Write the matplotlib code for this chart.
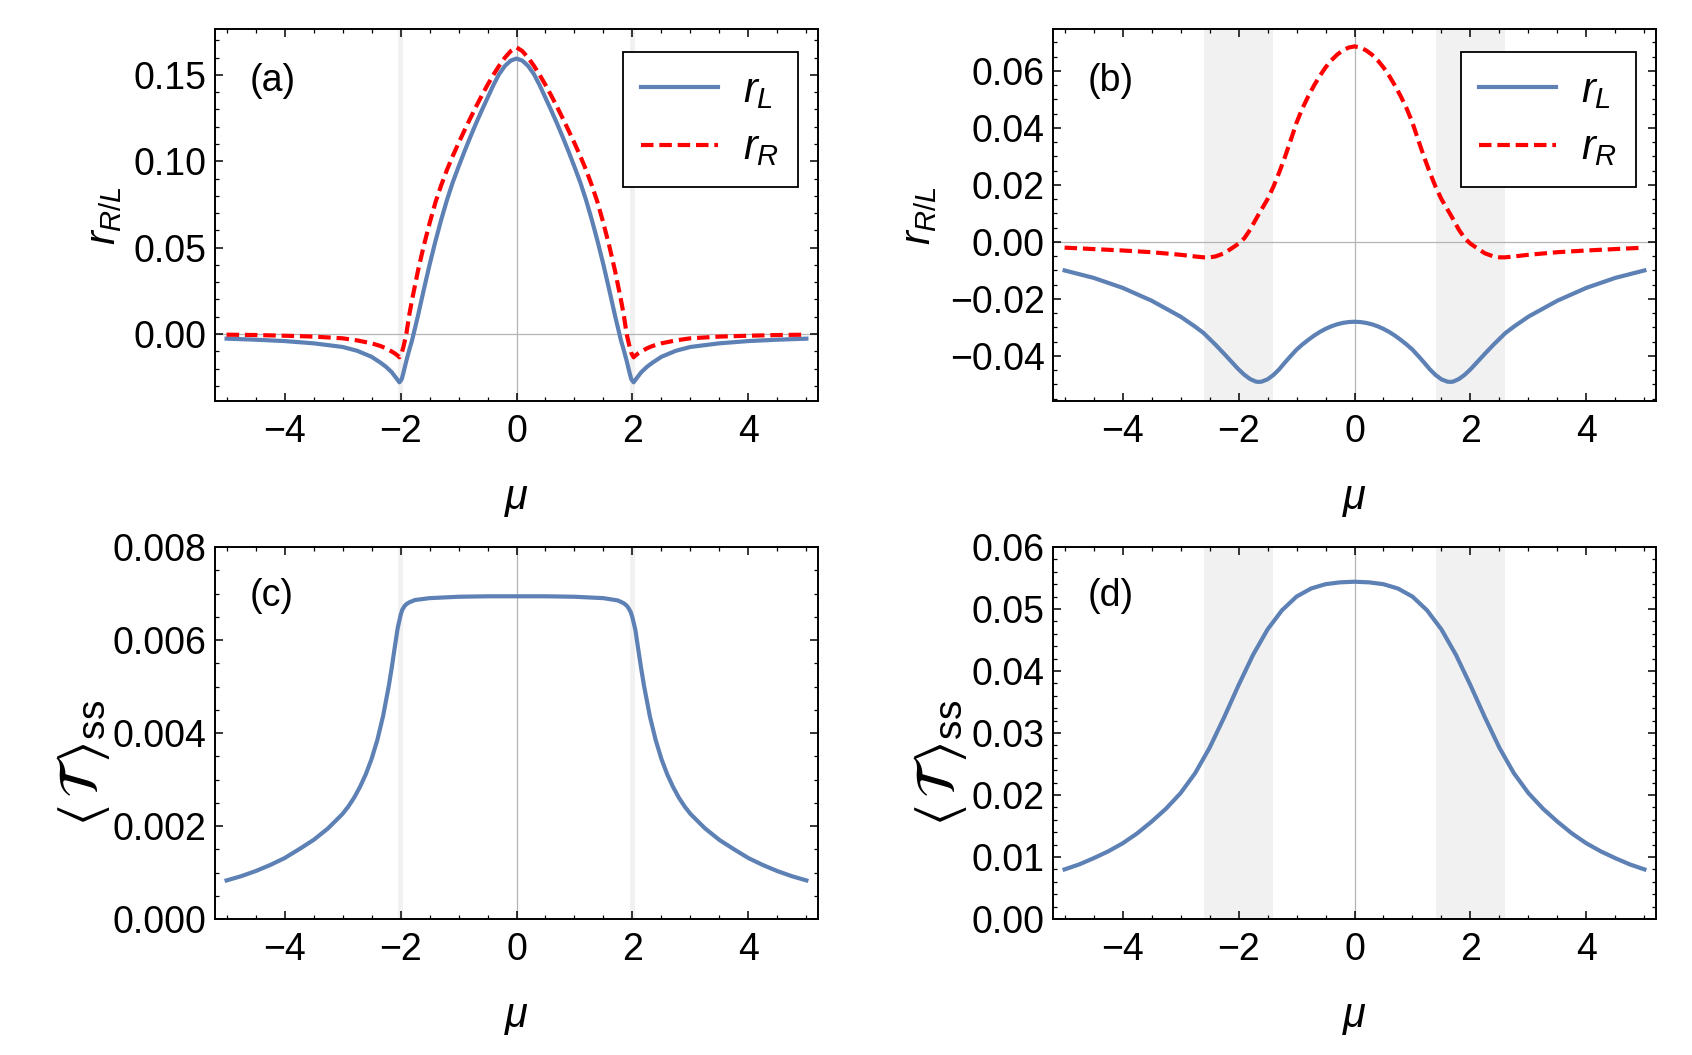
import matplotlib

matplotlib.use("Agg")
import matplotlib.pyplot as plt  # noqa: E402
from matplotlib.ticker import MultipleLocator  # noqa: E402

# ---- data ----
MU_A = [-5, -4.5, -4, -3.5, -3, -2.75, -2.5, -2.35, -2.25, -2.15, -2.1, -2.05, -2.02, -1.98,
        -1.95, -1.9, -1.85, -1.8, -1.7, -1.6, -1.5, -1.4, -1.3, -1.2, -1.1, -1.0, -0.9, -0.8,
        -0.7, -0.6, -0.5, -0.4, -0.3, -0.2, -0.1, 0, 0.1, 0.2, 0.3, 0.4, 0.5, 0.6, 0.7, 0.8,
        0.9, 1.0, 1.1, 1.2, 1.3, 1.4, 1.5, 1.6, 1.7, 1.8, 1.85, 1.9, 1.95, 1.98, 2.02, 2.05,
        2.1, 2.15, 2.25, 2.35, 2.5, 2.75, 3, 3.5, 4, 4.5, 5]
RL_A = [-0.0027, -0.0033, -0.0041, -0.0054, -0.0075, -0.0097, -0.0132, -0.0165, -0.0190, -0.0222,
        -0.0244, -0.0266, -0.0280, -0.0262, -0.0225, -0.0155, -0.0093, -0.0035, 0.0105, 0.0255,
        0.0400, 0.0535, 0.0660, 0.0775, 0.0878, 0.0968, 0.1055, 0.1138, 0.1218, 0.1294, 0.1367,
        0.1440, 0.1505, 0.1552, 0.1583, 0.1595, 0.1583, 0.1552, 0.1505, 0.1440, 0.1367, 0.1294,
        0.1218, 0.1138, 0.1055, 0.0968, 0.0878, 0.0775, 0.0660, 0.0535, 0.0400, 0.0255, 0.0105,
        -0.0035, -0.0093, -0.0155, -0.0225, -0.0262, -0.0280, -0.0266, -0.0244, -0.0222, -0.0190,
        -0.0165, -0.0132, -0.0097, -0.0075, -0.0054, -0.0041, -0.0033, -0.0027]
RR_A = [-0.0004, -0.0006, -0.0010, -0.0015, -0.0025, -0.0037, -0.0054, -0.0069, -0.0083, -0.0102,
        -0.0112, -0.0125, -0.0135, -0.0110, -0.0074, 0.0000, 0.0110, 0.0200, 0.0365, 0.0510,
        0.0640, 0.0760, 0.0860, 0.0950, 0.1030, 0.1105, 0.1177, 0.1247, 0.1315, 0.1380, 0.1442,
        0.1500, 0.1553, 0.1600, 0.1638, 0.1660, 0.1638, 0.1600, 0.1553, 0.1500, 0.1442, 0.1380,
        0.1315, 0.1247, 0.1177, 0.1105, 0.1030, 0.0950, 0.0860, 0.0760, 0.0640, 0.0510, 0.0365,
        0.0200, 0.0110, 0.0000, -0.0074, -0.0110, -0.0135, -0.0125, -0.0112, -0.0102, -0.0083,
        -0.0069, -0.0054, -0.0037, -0.0025, -0.0015, -0.0010, -0.0006, -0.0004]

MU_B = [-5, -4.5, -4, -3.5, -3, -2.75, -2.6, -2.5, -2.4, -2.25, -2.1, -2, -1.9, -1.8, -1.7,
        -1.65, -1.6, -1.5, -1.4, -1.3, -1.2, -1.1, -1, -0.9, -0.8, -0.7, -0.6, -0.5, -0.4, -0.3,
        -0.2, -0.1, 0, 0.1, 0.2, 0.3, 0.4, 0.5, 0.6, 0.7, 0.8, 0.9, 1, 1.1, 1.2, 1.3, 1.4, 1.5,
        1.6, 1.65, 1.7, 1.8, 1.9, 2, 2.1, 2.25, 2.4, 2.5, 2.6, 2.75, 3, 3.5, 4, 4.5, 5]
RL_B = [-0.0100, -0.0126, -0.0161, -0.0206, -0.0262, -0.0297, -0.0320, -0.0340, -0.0360, -0.0392,
        -0.0425, -0.0447, -0.0466, -0.0481, -0.0490, -0.0491, -0.0490, -0.0482, -0.0467, -0.0447,
        -0.0423, -0.0400, -0.0378, -0.0360, -0.0344, -0.0329, -0.0316, -0.0305, -0.0296, -0.0289,
        -0.0284, -0.0281, -0.0280, -0.0281, -0.0284, -0.0289, -0.0296, -0.0305, -0.0316, -0.0329,
        -0.0344, -0.0360, -0.0378, -0.0400, -0.0423, -0.0447, -0.0467, -0.0482, -0.0490, -0.0491,
        -0.0490, -0.0481, -0.0466, -0.0447, -0.0425, -0.0392, -0.0360, -0.0340, -0.0320, -0.0297,
        -0.0262, -0.0206, -0.0161, -0.0126, -0.0100]
RR_B = [-0.0020, -0.0025, -0.0030, -0.0036, -0.0045, -0.0051, -0.0054, -0.0054, -0.0051, -0.0040,
        -0.0020, -0.0006, 0.0013, 0.0043, 0.0080, 0.0098, 0.0115, 0.0150, 0.0193, 0.0243, 0.0298,
        0.0357, 0.0418, 0.0468, 0.0510, 0.0548, 0.0582, 0.0612, 0.0637, 0.0657, 0.0672, 0.0682,
        0.0686, 0.0682, 0.0672, 0.0657, 0.0637, 0.0612, 0.0582, 0.0548, 0.0510, 0.0468, 0.0418,
        0.0357, 0.0298, 0.0243, 0.0193, 0.0150, 0.0115, 0.0098, 0.0080, 0.0043, 0.0013, -0.0006,
        -0.0020, -0.0040, -0.0051, -0.0054, -0.0054, -0.0051, -0.0045, -0.0036, -0.0030, -0.0025,
        -0.0020]

MU_C = [-5, -4.75, -4.5, -4.25, -4, -3.75, -3.5, -3.25, -3, -2.9, -2.8, -2.7, -2.6, -2.5, -2.4,
        -2.3, -2.2, -2.15, -2.1, -2.05, -2.0, -1.97, -1.93, -1.9, -1.85, -1.75, -1.5, -1, -0.5, 0,
        0.5, 1, 1.5, 1.75, 1.85, 1.9, 1.93, 1.97, 2.0, 2.05, 2.1, 2.15, 2.2, 2.3, 2.4, 2.5, 2.6,
        2.7, 2.8, 2.9, 3, 3.25, 3.5, 3.75, 4, 4.25, 4.5, 4.75, 5]
T_C = [0.00083, 0.00092, 0.00103, 0.00116, 0.00131, 0.00150, 0.00170, 0.00195, 0.00226, 0.00242,
       0.00261, 0.00284, 0.00311, 0.00344, 0.00385, 0.00437, 0.00503, 0.00542, 0.00584, 0.00625,
       0.00653, 0.00665, 0.00673, 0.00677, 0.00681, 0.00686, 0.00690, 0.00693, 0.00694, 0.00694,
       0.00694, 0.00693, 0.00690, 0.00685, 0.00679, 0.00674, 0.00669, 0.00660, 0.00648, 0.00622,
       0.00580, 0.00539, 0.00501, 0.00436, 0.00385, 0.00344, 0.00311, 0.00284, 0.00261, 0.00242,
       0.00226, 0.00195, 0.00170, 0.00150, 0.00131, 0.00116, 0.00103, 0.00092, 0.00083]

MU_D = [-5, -4.75, -4.5, -4.25, -4, -3.75, -3.5, -3.25, -3, -2.75, -2.5, -2.25, -2, -1.75, -1.5,
        -1.25, -1, -0.75, -0.5, -0.25, 0, 0.25, 0.5, 0.75, 1, 1.25, 1.5, 1.75, 2, 2.25, 2.5,
        2.75, 3, 3.25, 3.5, 3.75, 4, 4.25, 4.5, 4.75, 5]
T_D = [0.0080, 0.0088, 0.0098, 0.0109, 0.0122, 0.0138, 0.0157, 0.0178, 0.0203, 0.0235, 0.0276,
       0.0325, 0.0377, 0.0426, 0.0467, 0.0498, 0.0520, 0.0533, 0.0540, 0.0543, 0.0544, 0.0543,
       0.0540, 0.0533, 0.0520, 0.0498, 0.0467, 0.0426, 0.0377, 0.0325, 0.0276, 0.0235, 0.0203,
       0.0178, 0.0157, 0.0138, 0.0122, 0.0109, 0.0098, 0.0088, 0.0080]

BANDS_NARROW = [(-2.05, -1.95), (1.95, 2.05)]
BANDS_WIDE = [(-2.6, -1.4), (1.4, 2.6)]

BLUE = "#5E81B5"
RED = "#FF0000"
LW = 3.0
DASH = (3.0, 1.4)

plt.rcParams.update({
    "font.family": ["Liberation Sans", "DejaVu Sans"],
    "font.size": 27,
    "mathtext.fontset": "custom",
    "mathtext.rm": "Liberation Sans",
    "mathtext.it": "Liberation Sans:italic",
    "mathtext.sf": "Liberation Sans",
    "axes.linewidth": 1.4,
    "xtick.direction": "in",
    "ytick.direction": "in",
    "xtick.top": True,
    "ytick.right": True,
    "xtick.major.size": 6,
    "ytick.major.size": 6,
    "xtick.minor.size": 3,
    "ytick.minor.size": 3,
    "xtick.major.width": 1.1,
    "ytick.major.width": 1.1,
    "xtick.minor.width": 0.9,
    "ytick.minor.width": 0.9,
    "xtick.major.pad": 9,
    "ytick.major.pad": 6,
})

W, H = 1692, 1055
T_LABEL = r"$\langle\,\mathcal{T}\,\rangle_{\mathregular{ss}}$"


def make_ax(fig, x0, x1, y0, y1):
    return fig.add_axes([x0 / W, 1 - y1 / H, (x1 - x0) / W, (y1 - y0) / H])


def style(ax, ylim, major, minor, bands, zero_line=True):
    for a, b in bands:
        ax.axvspan(a, b, color="#f1f1f1", lw=0, zorder=0)
    ax.axvline(0, color="#b5b5b5", lw=0.9, zorder=1)
    if zero_line:
        ax.axhline(0, color="#b5b5b5", lw=0.9, zorder=1)
    ax.set_xlim(-5.2, 5.2)
    ax.set_ylim(*ylim)
    ax.xaxis.set_major_locator(MultipleLocator(2))
    ax.xaxis.set_minor_locator(MultipleLocator(0.5))
    ax.yaxis.set_major_locator(MultipleLocator(major))
    ax.yaxis.set_minor_locator(MultipleLocator(minor))
    ax.set_xlabel(r"$\mu$", fontsize=30)
    ax.xaxis.set_label_coords(0.5, -0.21)


def legend(ax):
    ax.legend(loc="upper right", bbox_to_anchor=(0.967, 0.938), borderaxespad=0,
              fontsize=30, frameon=True, fancybox=False, edgecolor="black",
              framealpha=1, handlelength=1.85, handletextpad=0.6, labelspacing=0.42,
              borderpad=0.45)
    ax.get_legend().get_frame().set_linewidth(1.3)


def minus(fmt):
    return lambda v, p: format(v, fmt).replace("-", "\u2212")


fig = plt.figure(figsize=(W / 100, H / 100), dpi=100)

ax_a = make_ax(fig, 215, 818, 29, 401)
ax_b = make_ax(fig, 1053, 1656, 29, 401)
ax_c = make_ax(fig, 215, 818, 547, 919)
ax_d = make_ax(fig, 1053, 1656, 547, 919)

# (a)
style(ax_a, (-0.0388, 0.1766), 0.05, 0.01, BANDS_NARROW)
ax_a.plot(MU_A, RL_A, color=BLUE, lw=LW, label=r"$r_L$", zorder=3)
ax_a.plot(MU_A, RR_A, color=RED, lw=LW, dashes=DASH, label=r"$r_R$", zorder=4)
ax_a.yaxis.set_major_formatter(minus(".2f"))
ax_a.set_ylabel(r"$r_{R/L}$", fontsize=30)
ax_a.yaxis.set_label_coords(-0.151, 0.5)
legend(ax_a)
ax_a.text(0.057, 0.86, "(a)", transform=ax_a.transAxes, va="center", fontsize=27)

# (b)
style(ax_b, (-0.0558, 0.0747), 0.02, 0.005, BANDS_WIDE)
ax_b.plot(MU_B, RL_B, color=BLUE, lw=LW, label=r"$r_L$", zorder=3)
ax_b.plot(MU_B, RR_B, color=RED, lw=LW, dashes=DASH, label=r"$r_R$", zorder=4)
ax_b.yaxis.set_major_formatter(minus(".2f"))
ax_b.set_ylabel(r"$r_{R/L}$", fontsize=30)
ax_b.yaxis.set_label_coords(-0.189, 0.5)
legend(ax_b)
ax_b.text(0.057, 0.86, "(b)", transform=ax_b.transAxes, va="center", fontsize=27)

# (c)
style(ax_c, (0, 0.008), 0.002, 0.0005, BANDS_NARROW, zero_line=False)
ax_c.plot(MU_C, T_C, color=BLUE, lw=LW, zorder=3)
ax_c.yaxis.set_major_formatter(minus(".3f"))
ax_c.set_ylabel(T_LABEL, fontsize=40, math_fontfamily="stix")
ax_c.yaxis.set_label_coords(-0.17, 0.42)
ax_c.text(0.057, 0.868, "(c)", transform=ax_c.transAxes, va="center", fontsize=27)

# (d)
style(ax_d, (0, 0.06), 0.01, 0.002, BANDS_WIDE, zero_line=False)
ax_d.plot(MU_D, T_D, color=BLUE, lw=LW, zorder=3)
ax_d.yaxis.set_major_formatter(minus(".2f"))
ax_d.set_ylabel(T_LABEL, fontsize=40, math_fontfamily="stix")
ax_d.yaxis.set_label_coords(-0.14, 0.42)
ax_d.text(0.057, 0.868, "(d)", transform=ax_d.transAxes, va="center", fontsize=27)

fig.savefig("out.png", dpi=100)
